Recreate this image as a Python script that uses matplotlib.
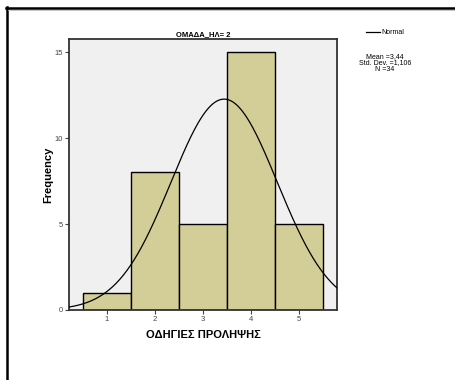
import numpy as np
import matplotlib.pyplot as plt
from matplotlib.lines import Line2D

# histogram data
values = [1, 2, 3, 4, 5]
counts = [1, 8, 5, 15, 5]
mean = 3.44
sd = 1.106
n = 34
title = "ΟΜΑΔΑ_ΗΛ= 2"
xlabel = "ΟΔΗΓΙΕΣ ΠΡΟΛΗΨΗΣ"
ylabel = "Frequency"
yticks = [0, 5, 10, 15]

plt.rcParams['font.family'] = ['Liberation Sans', 'DejaVu Sans']

W, H = 455, 380
fig = plt.figure(figsize=(W / 100, H / 100), dpi=100)
fig.patch.set_facecolor('white')

# axes box in pixels: x 69..337, y 39..310
ax = fig.add_axes([69 / W, 1 - 310 / H, (337 - 69) / W, (310 - 39) / H])
ax.set_facecolor('#f0f0f0')
ax.bar(values, counts, width=1.0, color='#d3ce97', edgecolor='black', linewidth=1.0, zorder=2)

xs = np.linspace(0.2, 5.8, 300)
ys = n * 1.0 / (sd * np.sqrt(2 * np.pi)) * np.exp(-0.5 * ((xs - mean) / sd) ** 2)
ax.plot(xs, ys, color='black', linewidth=0.9, zorder=3)

ax.set_xlim(0.21, 5.79)
ax.set_ylim(0, 15.76)
ax.set_xticks(values)
ax.set_yticks(yticks)
ax.tick_params(axis='both', labelsize=5.5, length=3, width=0.8, pad=1.5, colors='#444444')
for s in ax.spines.values():
    s.set_linewidth(1.3)
    s.set_color('#333333')

ax.set_title(title, fontsize=5.5, fontweight='bold', pad=2)
ax.set_xlabel(xlabel, fontsize=8, fontweight='bold', labelpad=5)
ax.set_ylabel(ylabel, fontsize=8, fontweight='bold', labelpad=1)

# legend and stats on the right
fig.add_artist(Line2D([366 / W, 380 / W], [1 - 32 / H, 1 - 32 / H], color='black', linewidth=0.9))
fig.text(381 / W, 1 - 32 / H, "Normal", fontsize=5, va='center', ha='left')
fig.text(385 / W, 1 - 63 / H, "Mean =3,44\nStd. Dev. =1,106\nN =34",
         fontsize=5, ha='center', va='center', linespacing=0.95)

# outer frame (left and top only)
fig.add_artist(Line2D([7 / W, 7 / W], [0, 1 - 7 / H], color='black', linewidth=1.8))
fig.add_artist(Line2D([6 / W, 1], [1 - 8 / H, 1 - 8 / H], color='black', linewidth=1.8))
fig.add_artist(Line2D([8 / W, 1], [1 - 10 / H, 1 - 10 / H], color='#bbbbbb', linewidth=0.6))

fig.savefig('out.png', dpi=100)
